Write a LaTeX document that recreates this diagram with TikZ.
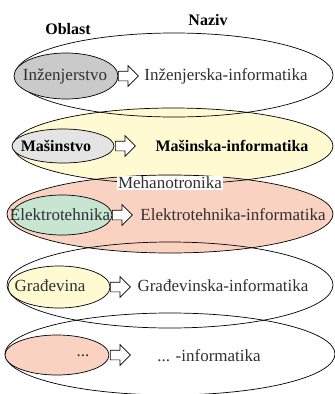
\documentclass[tikz,border=0pt]{standalone}
\usepackage{fontspec}
\setmainfont{Liberation Serif}
\usetikzlibrary{shapes.arrows}
\definecolor{cyel}{HTML}{FFFAD2}
\definecolor{csal}{HTML}{F9D2C2}
\definecolor{cgray}{HTML}{CACACA}
\definecolor{clgray}{HTML}{E4E4E4}
\definecolor{cgreen}{HTML}{C8E5D1}
\definecolor{ctxt}{HTML}{303030}
\tikzset{
  bigell/.style={draw=black, line width=0.7pt},
  smallell/.style={draw=black, line width=0.7pt},
  arr/.style={single arrow, draw=black, fill=white, line width=0.7pt,
    single arrow head extend=5.5pt, inner xsep=0pt, inner ysep=4.5pt,
    minimum height=20pt, shape border rotate=0},
  lbl/.style={font=\fontsize{17}{19}\selectfont, text=ctxt, inner sep=1pt},
  blbl/.style={font=\fontsize{16}{18}\selectfont\bfseries, text=black, inner sep=1pt},
}
\begin{document}
\begin{tikzpicture}[x=1pt,y=-1pt]
\useasboundingbox (0,0) rectangle (335,394);
\begin{scope}
\clip (0,0) rectangle (335,394);
% fills of coloured big ellipses
\fill[cyel] (173,146) ellipse [x radius=160, y radius=38];
\fill[csal] (170,214) ellipse [x radius=163, y radius=39];
% outlines of big ellipses
\draw[bigell] (174,75) ellipse [x radius=159, y radius=42];
\draw[bigell] (173,146) ellipse [x radius=160, y radius=38];
\draw[bigell] (170,214) ellipse [x radius=163, y radius=39];
\draw[bigell] (170,285) ellipse [x radius=163, y radius=43];
\draw[bigell] (170,354) ellipse [x radius=165, y radius=41];
\end{scope}

% small ellipses
\draw[smallell, fill=cgray] (66,76) ellipse [x radius=52, y radius=23];
\draw[smallell, fill=clgray] (63,146) ellipse [x radius=51, y radius=17];
\draw[smallell, fill=cgreen] (62,215) ellipse [x radius=50, y radius=20];
\draw[smallell, fill=cyel] (59,287) ellipse [x radius=51, y radius=21];
\draw[smallell, fill=csal] (57,355) ellipse [x radius=52, y radius=20];

% headers
\node[blbl] (hob) at (68,29) {Oblast};
\node[blbl] (hna) at (208,20) {Naziv};

% left labels
\node[lbl] (s1) at (65,76) {Inženjerstvo};
\node[blbl] (s2) at (56,146) {Mašinstvo};
\node[lbl] (s3) at (60,215) {Elektrotehnika};
\node[lbl] (s4) at (50,286) {Građevina};
\node[lbl] (s5) at (83,356) {...};

% right labels
\node[lbl] (t1) at (226,76) {Inženjerska-informatika};
\node[blbl] (t2) at (232,146) {Mašinska-informatika};
\node[lbl] (t3) at (233,215) {Elektrotehnika-informatika};
\node[lbl] (t4) at (223,286) {Građevinska-informatika};
\node[lbl] (t5) at (209,356) {... -informatika};

% arrows
\node[arr, anchor=tail] (a1) at (118,76) {};
\node[arr, anchor=tail] (a2) at (115,146) {};
\node[arr, anchor=tail] (a3) at (112,215) {};
\node[arr, anchor=tail] (a4) at (110,287) {};
\node[arr, anchor=tail] (a5) at (110,355) {};

% overlap label
\node[lbl, fill=white, inner sep=1.5pt] (meh) at (170,183) {Mehanotronika};
\end{tikzpicture}
\end{document}
